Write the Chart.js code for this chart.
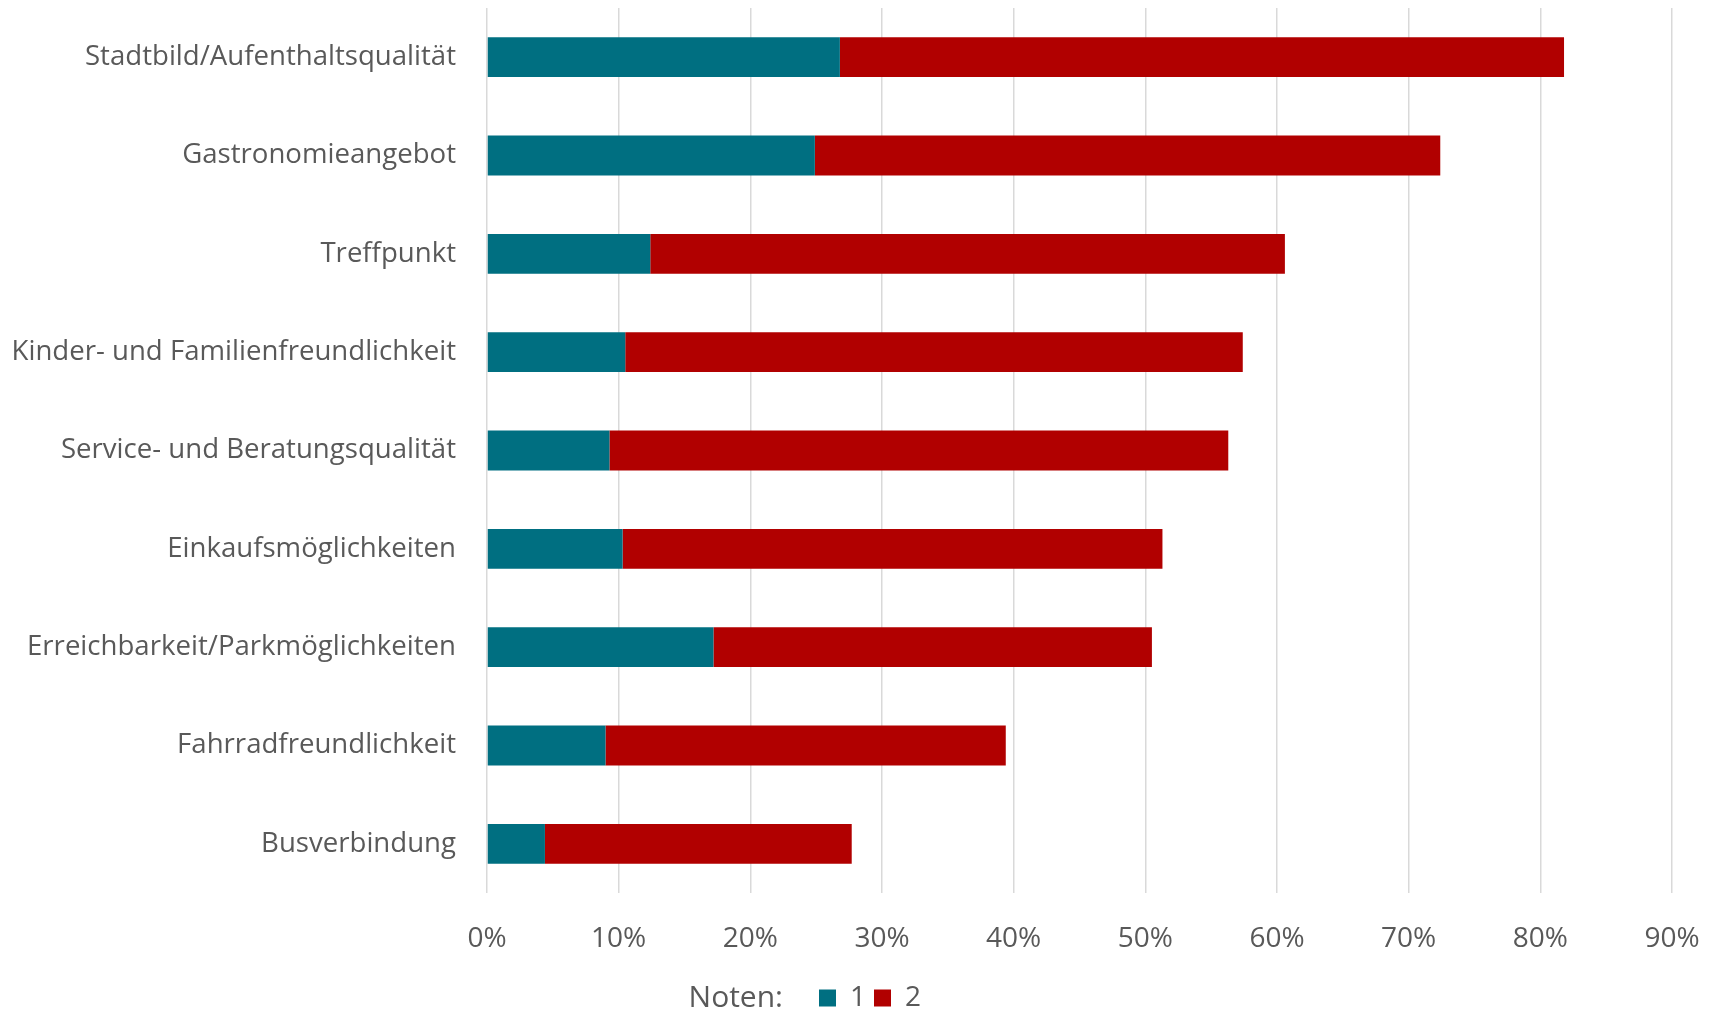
<!DOCTYPE html>
<html>
<head>
<meta charset="utf-8">
<script src="https://cdn.jsdelivr.net/npm/chart.js@4.4.1/dist/chart.umd.min.js"></script>
<style>
  html, body { margin: 0; padding: 0; background: #ffffff; overflow: hidden; }
  #wrap { position: relative; width: 1717px; height: 1022px; }
</style>
</head>
<body>
<div id="wrap"><canvas id="c"></canvas></div>
<script>
const categories = [
  'Stadtbild/Aufenthaltsqualität',
  'Gastronomieangebot',
  'Treffpunkt',
  'Kinder- und Familienfreundlichkeit',
  'Service- und Beratungsqualität',
  'Einkaufsmöglichkeiten',
  'Erreichbarkeit/Parkmöglichkeiten',
  'Fahrradfreundlichkeit',
  'Busverbindung'
];
const seriesNames = ['1', '2'];
const note1 = [26.8, 24.9, 12.4, 10.5, 9.3, 10.3, 17.2, 9.0, 4.4];
const note2 = [55.0, 47.5, 48.2, 46.9, 47.0, 41.0, 33.3, 30.4, 23.3];
const tickLabels = ['0%', '10%', '20%', '30%', '40%', '50%', '60%', '70%', '80%', '90%'];
const legendTitle = 'Noten:';

const TEXT = '#595959';
const FONT = 'Open Sans';

const notenPlugin = {
  id: 'notenTitle',
  afterLayout(chart) {
    const lg = chart.legend;
    if (!lg) return;
    lg.left = 68;
    lg.right = 1672;
  },
  afterDraw(chart) {
    const lg = chart.legend;
    if (!lg || !lg.legendHitBoxes || !lg.legendHitBoxes.length) return;
    const hb = lg.legendHitBoxes[0];
    const ctx = chart.ctx;
    ctx.save();
    ctx.font = '30px "' + FONT + '"';
    ctx.fillStyle = TEXT;
    ctx.textAlign = 'right';
    ctx.textBaseline = 'middle';
    ctx.fillText(legendTitle, hb.left - 36, hb.top + hb.height / 2);
    ctx.restore();
  }
};

new Chart(document.getElementById('c'), {
  type: 'bar',
  data: {
    labels: categories,
    datasets: [
      { label: seriesNames[0], data: note1, backgroundColor: '#006F81', borderWidth: 0,
        barPercentage: 0.405, categoryPercentage: 1 },
      { label: seriesNames[1], data: note2, backgroundColor: '#B10000', borderWidth: 0,
        barPercentage: 0.405, categoryPercentage: 1 }
    ]
  },
  plugins: [notenPlugin],
  options: {
    indexAxis: 'y',
    responsive: true,
    maintainAspectRatio: false,
    animation: false,
    devicePixelRatio: 1,
    layout: { padding: { left: 0, right: 45, top: 8, bottom: 0 } },
    plugins: {
      tooltip: { enabled: false },
      legend: {
        position: 'bottom',
        align: 'center',
        labels: {
          boxWidth: 17,
          boxHeight: 17,
          padding: 8,
          color: TEXT,
          font: { family: FONT, size: 28 }
        }
      }
    },
    scales: {
      x: {
        stacked: true,
        min: 0,
        max: 90,
        afterFit(scale) { scale.height = 83; },
        afterBuildTicks(scale) {
          scale.ticks = tickLabels.map((t, i) => ({ value: i * 10 }));
        },
        ticks: {
          color: TEXT,
          font: { family: FONT, size: 28 },
          padding: 0,
          maxRotation: 0,
          callback: (v, i) => tickLabels[i]
        },
        grid: { color: '#D9D9D9', lineWidth: 1.5, drawTicks: true, tickLength: 29, tickColor: 'rgba(0,0,0,0)' },
        border: { display: false }
      },
      y: {
        stacked: true,
        afterFit(scale) { scale.width = 487; },
        ticks: {
          color: TEXT,
          font: { family: FONT, size: 27.6, lineHeight: 0.5 },
          padding: 0,
          autoSkip: false
        },
        grid: { display: true, drawOnChartArea: false, drawTicks: true, tickLength: 31,
                color: 'rgba(0,0,0,0)', tickColor: 'rgba(0,0,0,0)' },
        border: { display: false }
      }
    }
  }
});
</script>
</body>
</html>
